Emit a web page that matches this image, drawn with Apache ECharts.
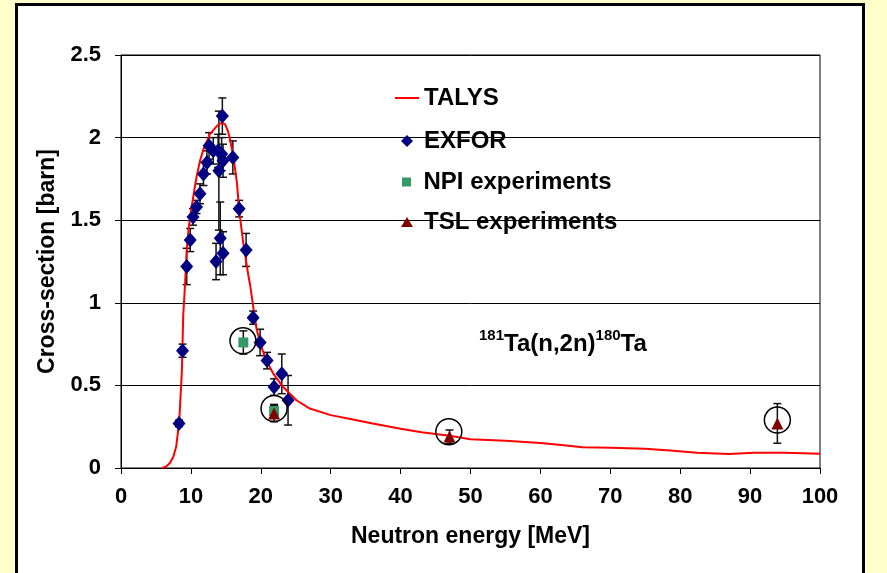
<!DOCTYPE html>
<html>
<head>
<meta charset="utf-8">
<script src="https://cdn.jsdelivr.net/npm/echarts@6/dist/echarts.min.js"></script>
<style>
html,body{margin:0;padding:0;background:#FFFFCC;}
#chart{width:887px;height:573px;}
</style>
</head>
<body>
<div id="chart"></div>
<script>
// ---- data ----
const xTicks = [0,10,20,30,40,50,60,70,80,90,100];
const yTicks = [0,0.5,1,1.5,2,2.5];
const legendNames = ['TALYS','EXFOR','NPI experiments','TSL experiments'];

// TALYS calculation [energy MeV, cross-section barn]
const talys = [
 [5.9,0],[6.5,0.01],[7.0,0.03],[7.5,0.07],[7.9,0.13],[8.1,0.2],[8.35,0.3],[8.5,0.42],[8.7,0.58],
 [8.9,0.92],[9.2,1.14],[9.4,1.32],[9.7,1.46],[10.1,1.58],[10.8,1.76],[11.3,1.86],[11.8,1.93],
 [12.7,2.02],[13.7,2.07],[14.4,2.09],[14.9,2.08],[15.3,2.04],[15.6,1.99],[16.1,1.88],[16.6,1.72],
 [16.9,1.56],[17.5,1.36],[18.2,1.17],[18.5,1.10],[18.9,0.98],[19.4,0.84],[20.1,0.73],[20.8,0.65],
 [21.8,0.57],[23.2,0.49],[25.1,0.41],[27,0.36],[30,0.32],[33,0.295],[36,0.27],[40,0.237],
 [43,0.216],[47,0.195],[50,0.174],[55,0.165],[60,0.152],[63,0.139],[66,0.125],[70,0.123],
 [75,0.117],[79,0.105],[82.4,0.093],[87,0.085],[90.5,0.092],[95,0.093],[100,0.087]
];

// EXFOR data [energy, xs, error]
const exfor = [
 [8.3,0.27,0.02],[8.8,0.71,0.04],[9.4,1.22,0.11],[9.9,1.38,0.07],[10.3,1.52,0.05],[10.8,1.58,0.04],
 [11.3,1.66,0.06],[11.8,1.78,0.07],[12.3,1.85,0.07],[12.6,1.95,0.08],[13.2,1.92,0.08],[13.9,1.92,0.1],
 [14.4,1.90,0.1],[14.6,1.86,0.1],[14.0,1.80,0.36],[14.5,2.13,0.11],[16.0,1.88,0.1],[16.9,1.57,0.05],
 [17.9,1.32,0.1],[14.2,1.39,0.22],[13.6,1.25,0.11],[14.6,1.30,0.13],[18.9,0.91,0.04],[19.9,0.76,0.08],
 [20.9,0.65,0.05],[23.0,0.57,0.12],[21.9,0.49,0.05],[23.9,0.41,0.15]
];

// NPI experiments [energy, xs, error]
const npi = [[17.5,0.76,0.07],[21.9,0.345,0.04]];
// TSL experiments [energy, xs, error]
const tsl = [[21.9,0.33,0.05],[47.0,0.19,0.04],[93.9,0.27,0.12]];
// highlighted points (circled)
const circled = [[17.45,0.77],[21.9,0.36],[46.9,0.22],[93.9,0.29]];

// ---- chart ----
const FONT = '"Liberation Sans", Arial, sans-serif';
const chart = echarts.init(document.getElementById('chart'), null, {renderer:'canvas'});

function errBar(params, api){
  const x = api.value(0), y = api.value(1), e = api.value(2);
  const hi = api.coord([x, y + e]);
  const lo = api.coord([x, y - e]);
  const w = 4;
  const st = {stroke:'#111', lineWidth:1.5};
  return {type:'group', children:[
    {type:'line', shape:{x1:hi[0], y1:hi[1], x2:lo[0], y2:lo[1]}, style:st},
    {type:'line', shape:{x1:hi[0]-w, y1:hi[1], x2:hi[0]+w, y2:hi[1]}, style:st},
    {type:'line', shape:{x1:lo[0]-w, y1:lo[1], x2:lo[0]+w, y2:lo[1]}, style:st}
  ]};
}

const legendText = {fontSize:24, fontWeight:'bold', color:'#000', fontFamily:FONT};
const legendIcons = [
  {icon:'path://M0,0L24,0L24,2L0,2Z', h:2, top:81, left:390},
  {icon:'path://M6,0L12,6L6,12L0,6Z', h:12, top:124, left:396},
  {icon:'path://M0,0L9,0L9,9L0,9Z', h:9, top:165, left:397},
  {icon:'path://M6,0L12,10L0,10Z', h:10, top:205, left:396}
];
const legends = legendNames.map((n,i)=>({
  left:legendIcons[i].left, top:legendIcons[i].top, orient:'vertical',
  itemWidth:24, itemHeight:legendIcons[i].h, symbolKeepAspect:true,
  textStyle:legendText,
  data:[{name:n, icon:legendIcons[i].icon}]
}));

const option = {
  animation:false,
  backgroundColor:'#FFFFCC',
  textStyle:{fontFamily:FONT},
  graphic:[{
    type:'rect', z:-100, silent:true,
    shape:{x:16.5, y:4.5, width:847, height:620},
    style:{fill:'#fff', stroke:'#000', lineWidth:3}
  }],
  title:{
    left:474, top:323,
    text:'{s|181}{b|Ta(n,2n)}{s|180}{b|Ta}',
    textStyle:{
      rich:{
        s:{fontSize:15, fontWeight:'bold', fontFamily:FONT, color:'#000', verticalAlign:'top', lineHeight:28},
        b:{fontSize:24, fontWeight:'bold', fontFamily:FONT, color:'#000', verticalAlign:'bottom', lineHeight:28}
      }
    }
  },
  legend:legends,
  grid:{left:121, right:67, top:55, bottom:105, show:true, borderColor:'#000', borderWidth:1, backgroundColor:'#fff'},
  xAxis:{
    type:'value', min:xTicks[0], max:xTicks[xTicks.length-1], interval:10,
    name:'Neutron energy [MeV]', nameLocation:'middle', nameGap:57,
    nameTextStyle:{fontSize:23, fontWeight:'bold', color:'#000', fontFamily:FONT},
    axisLine:{lineStyle:{color:'#000', width:1}},
    axisTick:{show:true, length:6, lineStyle:{color:'#000'}},
    axisLabel:{fontSize:22, fontWeight:'bold', color:'#000', margin:18, fontFamily:FONT},
    splitLine:{show:false}
  },
  yAxis:{
    type:'value', min:yTicks[0], max:yTicks[yTicks.length-1], interval:0.5,
    name:'Cross-section [barn]', nameLocation:'middle', nameGap:48,
    nameTextStyle:{fontSize:23, fontWeight:'bold', color:'#000', fontFamily:FONT},
    axisLine:{show:true, lineStyle:{color:'#000', width:1}},
    axisTick:{show:true, length:6, lineStyle:{color:'#000'}},
    axisLabel:{fontSize:22, fontWeight:'bold', color:'#000', margin:20, fontFamily:FONT,
      formatter:v=>String(v)},
    splitLine:{show:true, lineStyle:{color:'#000', width:1}}
  },
  series:[
    {name:'TALYS', type:'line', data:talys, symbol:'none', smooth:false,
     lineStyle:{color:'#FF0000', width:2}, itemStyle:{color:'#FF0000'}, z:3},
    {name:'exforErr', type:'custom', renderItem:errBar, data:exfor, z:2, silent:true},
    {name:'npiErr', type:'custom', renderItem:errBar, data:npi, z:2, silent:true},
    {name:'tslErr', type:'custom', renderItem:errBar, data:tsl, z:2, silent:true},
    {name:'EXFOR', type:'scatter', data:exfor.map(d=>[d[0],d[1]]), symbol:'diamond', symbolSize:[13,15],
     itemStyle:{color:'#000080', opacity:1}, z:4},
    {name:'NPI experiments', type:'scatter', data:npi.map(d=>[d[0],d[1]]), symbol:'rect', symbolSize:10,
     itemStyle:{color:'#339966', opacity:1}, z:5},
    {name:'TSL experiments', type:'scatter', data:tsl.map(d=>[d[0],d[1]]), symbol:'triangle', symbolSize:12,
     itemStyle:{color:'#800000', opacity:1}, z:6},
    {name:'circled', type:'scatter', data:circled, symbol:'circle', symbolSize:26,
     itemStyle:{color:'rgba(0,0,0,0)', borderColor:'#000', borderWidth:1.5, opacity:1}, z:7, silent:true}
  ]
};
chart.setOption(option);
</script>
</body>
</html>
